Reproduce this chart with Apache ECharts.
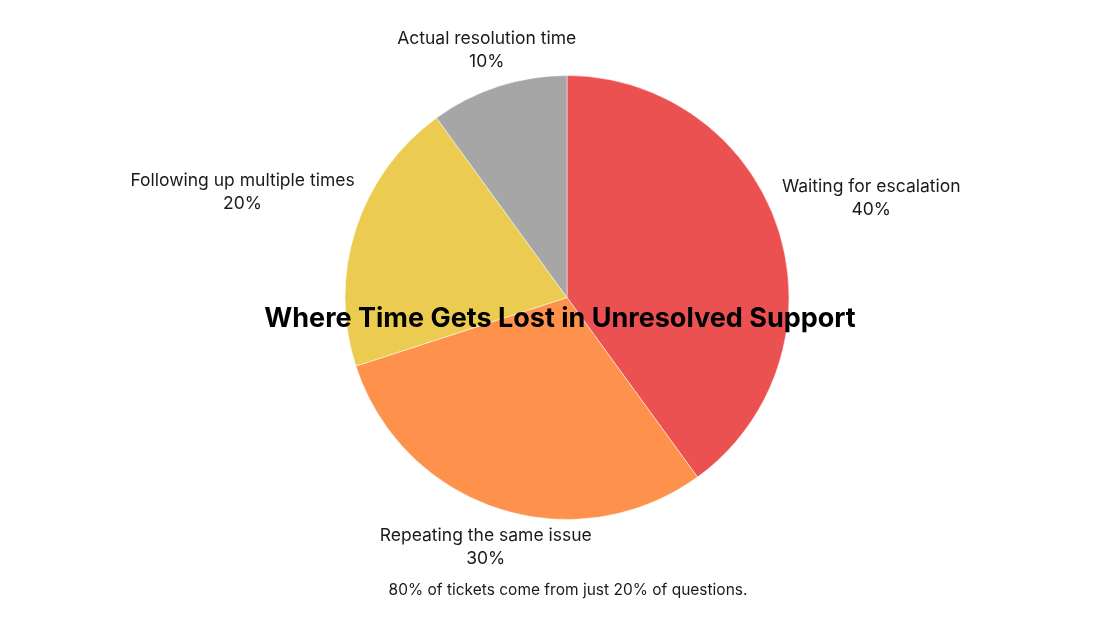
<!DOCTYPE html>
<html>
<head>
<meta charset="utf-8">
<script src="https://cdn.jsdelivr.net/npm/echarts@6/dist/echarts.min.js"></script>
<style>
  html, body { margin: 0; padding: 0; background: #ffffff; }
  #chart { width: 1120px; height: 630px; }
</style>
</head>
<body>
<div id="chart"></div>
<script>
const categories = ['Waiting for escalation', 'Repeating the same issue', 'Following up multiple times', 'Actual resolution time'];
const values = [40, 30, 20, 10];
const colors = ['#EB5151', '#FE914C', '#ECCB51', '#A6A6A6'];
const titleText = 'Where Time Gets Lost in Unresolved Support';
const subtitleText = '80% of tickets come from just 20% of questions.';

const CX = 567, CY = 297.5, R = 222, GAP = 8;
const total = values.reduce((a, b) => a + b, 0);
const midAngles = [];
let acc = 0;
values.forEach(v => { midAngles.push((acc + v / 2) / total * 2 * Math.PI); acc += v; });

const chart = echarts.init(document.getElementById('chart'), null, { renderer: 'canvas' });
const font = 'Inter, "Noto Sans", sans-serif';

chart.setOption({
  backgroundColor: '#ffffff',
  animation: false,
  title: [{
    text: titleText,
    left: 'center',
    top: 300,
    textStyle: { fontFamily: font, fontSize: 27, fontWeight: 'bold', color: '#000000' }
  }, {
    text: subtitleText,
    left: 563,
    textAlign: 'center',
    top: 577,
    textStyle: { fontFamily: font, fontSize: 15.5, fontWeight: 'normal', color: '#1a1a1a' }
  }],
  series: [{
    type: 'pie',
    center: [CX, CY],
    radius: R,
    startAngle: 90,
    clockwise: true,
    avoidLabelOverlap: false,
    itemStyle: { borderColor: '#ffffff', borderWidth: 0.5 },
    label: {
      show: true,
      position: 'outside',
      formatter: p => p.name + '\n' + p.value + '%',
      fontFamily: font,
      fontSize: 17.5,
      lineHeight: 23,
      color: '#1a1a1a'
    },
    labelLine: { show: false },
    emphasis: { disabled: true },
    labelLayout: function (p) {
      const a = midAngles[p.dataIndex];
      const dx = Math.sin(a), dy = -Math.cos(a);
      const w = p.labelRect.width, h = p.labelRect.height;
      const topInset = 3, bottomInset = 6;
      let lo = 0, hi = 800;
      for (let k = 0; k < 60; k++) {
        const t = (lo + hi) / 2;
        const cx = CX + t * dx, cy = CY + t * dy;
        const nx = Math.min(Math.max(CX, cx - w / 2), cx + w / 2);
        const ny = Math.min(Math.max(CY, cy - h / 2 + topInset), cy + h / 2 - bottomInset);
        const d = Math.hypot(nx - CX, ny - CY);
        if (d < R + GAP) lo = t; else hi = t;
      }
      return { x: CX + hi * dx, y: CY + hi * dy, align: 'center', verticalAlign: 'middle' };
    },
    data: categories.map((c, i) => ({ name: c, value: values[i], itemStyle: { color: colors[i] } }))
  }]
});
</script>
</body>
</html>
